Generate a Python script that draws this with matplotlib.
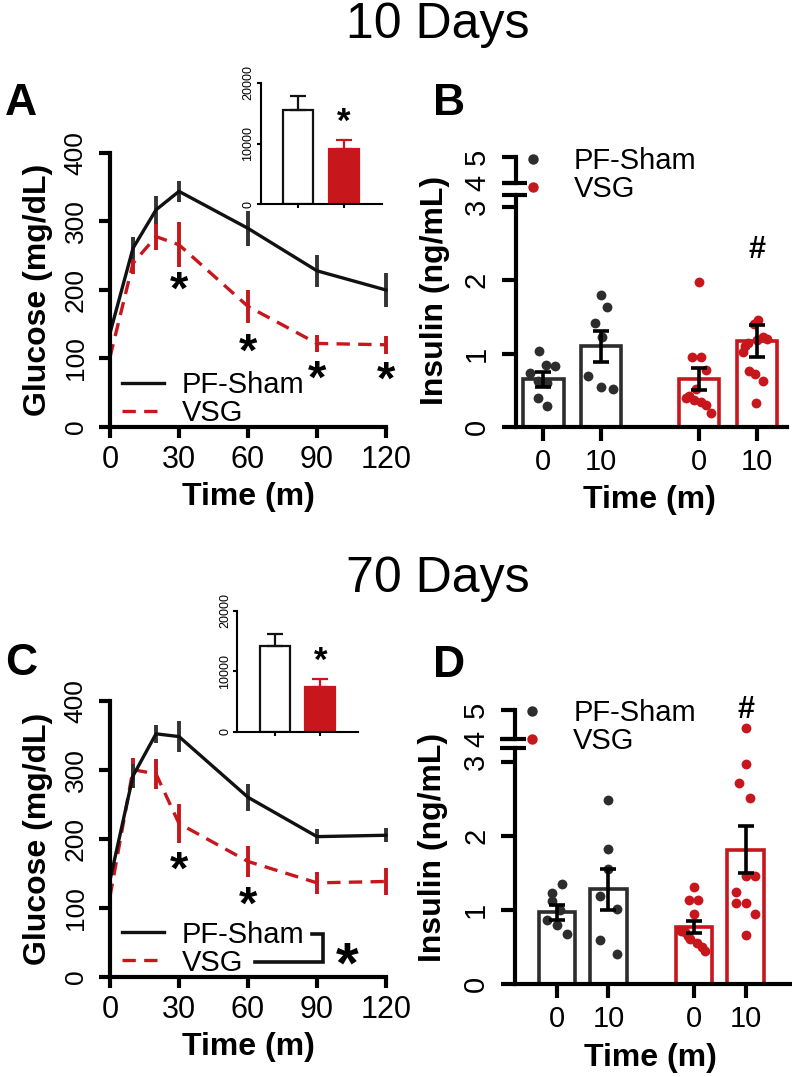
import matplotlib.pyplot as plt
from matplotlib.lines import Line2D

plt.rcParams['font.family'] = ['Liberation Sans', 'DejaVu Sans']

RED = '#c8161d'
BLK = '#111111'
DARK = '#2d2d2d'

# glucose tolerance test, minutes
time = [0, 10, 20, 30, 60, 90, 120]

# 10 days
sham10 = [137, 261, 317, 344, 290, 228, 200]
sham10_err = [15, 16, 20, 15, 26, 23, 25]
vsg10 = [102, 239, 278, 266, 176, 122, 120]
vsg10_err = [10, 15, 20, 33, 24, 12, 13]
stars10_t = [30, 60, 90, 120]
stars10_y = [215, 124, 85, 83]
auc10 = [15600, 9100]
auc10_err = [2200, 1400]

# 70 days
sham70 = [140, 291, 352, 348, 260, 203, 205]
sham70_err = [10, 17, 13, 22, 20, 11, 10]
vsg70 = [116, 300, 294, 222, 167, 136, 138]
vsg70_err = [10, 17, 22, 28, 22, 16, 19]
stars70_t = [30, 60]
stars70_y = [169, 118]
auc70 = [14150, 7320]
auc70_err = [2000, 1300]

# insulin, groups: PF-Sham 0, PF-Sham 10, VSG 0, VSG 10
ins_labels = ['0', '10', '0', '10']
ins10_mean = [0.65, 1.10, 0.65, 1.17]
ins10_sem = [0.10, 0.21, 0.15, 0.22]
ins10_pts = [
    [1.04, 0.85, 0.83, 0.73, 0.62, 0.60, 0.40, 0.28],
    [1.80, 1.64, 1.42, 1.23, 0.69, 0.55, 0.52],
    [1.98, 0.95, 0.95, 0.77, 0.52, 0.42, 0.39, 0.37, 0.34, 0.30, 0.19],
    [1.46, 1.40, 1.22, 1.20, 1.18, 1.15, 1.10, 1.02, 0.76, 0.72, 0.62, 0.33],
]
ins70_mean = [0.97, 1.28, 0.775, 1.82]
ins70_sem = [0.10, 0.28, 0.08, 0.32]
ins70_pts = [
    [1.35, 1.23, 1.13, 1.00, 0.86, 0.80, 0.68],
    [2.49, 1.83, 1.56, 1.19, 1.02, 0.59, 0.41],
    [1.31, 1.14, 1.14, 0.95, 0.72, 0.70, 0.65, 0.61, 0.55, 0.50, 0.44],
    [4.37, 2.98, 2.72, 2.52, 1.46, 1.46, 1.25, 1.09, 1.09, 0.95, 0.66],
]

# horizontal scatter of the dots (layout only)
jit10 = [
    [-0.07, 0.05, 0.21, -0.23, -0.10, 0.06, -0.09, 0.06],
    [0.0, 0.11, -0.10, 0.01, -0.22, 0.0, 0.21],
    [0.0, -0.12, 0.03, 0.12, -0.06, -0.18, -0.23, -0.09, 0.03, 0.12, 0.20],
    [0.02, -0.06, 0.10, 0.18, 0.0, -0.15, -0.20, -0.25, -0.14, -0.03, 0.10, -0.02],
]
jit70 = [
    [0.10, -0.10, -0.10, 0.06, -0.19, 0.0, 0.19],
    [0.0, 0.0, 0.0, -0.17, 0.16, -0.17, 0.16],
    [0.0, -0.10, 0.09, 0.0, -0.25, -0.17, -0.12, -0.07, 0.06, 0.15, 0.22],
    [0.0, 0.0, -0.12, 0.09, 0.01, 0.19, -0.19, -0.19, 0.0, 0.19, 0.0],
]

W, H = 792, 1077
fig = plt.figure(figsize=(W / 100, H / 100), dpi=100)


def px(left, top, right, bottom):
    return [left / W, 1 - bottom / H, (right - left) / W, (bottom - top) / H]


def style(ax, lw=3, ylab=19, xlab=22, length=8, ypad=8):
    for s in ['top', 'right']:
        ax.spines[s].set_visible(False)
    for s in ['left', 'bottom']:
        ax.spines[s].set_linewidth(lw)
    ax.tick_params(width=lw, length=length)
    ax.tick_params(axis='y', labelsize=ylab, labelrotation=90, pad=ypad)
    ax.tick_params(axis='x', labelsize=xlab, pad=5)
    for t in ax.get_yticklabels():
        t.set_va('center')


def mark(ax, x, y, s, size, lift):
    ax.annotate(s, (x, y), xytext=(0, -lift * size), textcoords='offset points',
                ha='center', va='baseline', fontsize=size, fontweight='bold',
                annotation_clip=False)


def glucose(rect, irect, sham, sham_err, vsg, vsg_err, st_t, st_y, auc, auc_err):
    ax = fig.add_axes(rect)
    dash = (0, (4, 2.5))
    ax.errorbar(time, vsg, yerr=vsg_err, fmt='none', ecolor=RED, elinewidth=2.8,
                capsize=0, clip_on=False)
    l2, = ax.plot(time, vsg, color=RED, lw=2.4, ls=dash, clip_on=False)
    ax.errorbar(time, sham, yerr=sham_err, fmt='none', ecolor='#333333',
                elinewidth=2.8, capsize=0, clip_on=False)
    l1, = ax.plot(time, sham, color=BLK, lw=2.4, clip_on=False)
    for t, y in zip(st_t, st_y):
        mark(ax, t, y, '*', 34, 0.5)
    ax.set_xlim(0, 120)
    ax.set_ylim(0, 400)
    ax.set_xticks([0, 30, 60, 90, 120])
    ax.set_yticks([0, 100, 200, 300, 400])
    style(ax)
    ax.set_xlabel('Time (m)', fontsize=23, fontweight='bold')
    ax.set_ylabel('Glucose (mg/dL)', fontsize=23, fontweight='bold')
    ax.xaxis.set_label_coords(0.5, -0.2)
    ax.yaxis.set_label_coords(-0.205, 0.5)
    ax.legend([l1, l2], ['PF-Sham', 'VSG'], loc='lower left',
              bbox_to_anchor=(0.043, 0.0), frameon=False, fontsize=21,
              handlelength=1.45, handletextpad=0.6, labelspacing=0.0,
              borderpad=0, borderaxespad=0)

    ins = fig.add_axes(irect)
    ecol = [BLK, RED]
    ins.bar([0, 1], auc, width=0.66, color=['white', RED], edgecolor=ecol, lw=1.6)
    for i in range(2):
        ins.errorbar(i, auc[i], yerr=[[0], [auc_err[i]]], fmt='none', ecolor=ecol[i],
                     elinewidth=1.6, capsize=5.5, capthick=1.6)
    mark(ins, 1, auc[1] + auc_err[1] + 4300, '*', 25, 0.5)
    ins.set_xlim(-0.82, 1.83)
    ins.set_ylim(0, 20000)
    ins.set_xticks([0, 1])
    ins.set_xticklabels([])
    ins.set_yticks([0, 10000, 20000])
    style(ins, lw=1.5, ylab=9, length=3, ypad=1.5)
    return ax


def insulin(rlo, rhi, pos, xlim, top, mean, sem, pts, jit, hash_ax, hash_y, leg_xy, ylab_y):
    lo = fig.add_axes(rlo)
    hi = fig.add_axes(rhi)
    edge = [DARK, DARK, RED, RED]
    lo.bar(pos, mean, width=0.7, color='white', edgecolor=edge, lw=2.6, zorder=1)
    for i in range(4):
        xs = [pos[i] + d for d in jit[i]]
        for a in (lo, hi):
            a.scatter(xs, pts[i], s=50, color=edge[i], lw=0, zorder=2)
        lo.errorbar(pos[i], mean[i], yerr=sem[i], fmt='none', ecolor='black',
                    elinewidth=2.6, capsize=6, capthick=2.6, zorder=3)
    for a in (lo, hi):
        a.set_xlim(*xlim)
    lo.set_ylim(0, top)
    hi.set_ylim(4, 5)
    lo.set_xticks(pos)
    lo.set_xticklabels(ins_labels)
    lo.set_yticks([0, 1, 2, 3])
    hi.set_yticks([4, 5])
    style(lo, ylab=21, xlab=21, length=10, ypad=8)
    style(hi, ylab=21, xlab=21, length=10, ypad=8)
    hi.spines['bottom'].set_visible(False)
    hi.tick_params(axis='x', bottom=False, labelbottom=False)
    # axis break marks
    lo.plot([-0.053, 0.04], [1, 1], transform=lo.transAxes, color='black', lw=3,
            clip_on=False, solid_capstyle='butt')
    hi.plot([-0.053, 0.04], [0, 0], transform=hi.transAxes, color='black', lw=3,
            clip_on=False, solid_capstyle='butt')
    mark(hash_ax(lo, hi), pos[3], hash_y, '#', 22, 0.36)
    lo.set_xlabel('Time (m)', fontsize=23, fontweight='bold')
    lo.set_ylabel('Insulin (ng/mL)', fontsize=23, fontweight='bold')
    lo.xaxis.set_label_coords(0.494, -0.25)
    lo.yaxis.set_label_coords(-0.245, ylab_y)
    hnd = [Line2D([], [], ls='none', marker='o', ms=7.5, color=DARK, mew=0),
           Line2D([], [], ls='none', marker='o', ms=7.5, color=RED, mew=0)]
    fig.legend(hnd, ['PF-Sham', 'VSG'], loc='upper left',
               bbox_to_anchor=(leg_xy[0] / W, 1 - leg_xy[1] / H), frameon=False,
               fontsize=21, handlelength=0.5, handletextpad=1.15,
               labelspacing=0.0, borderpad=0, borderaxespad=0)
    return lo


# top row: 10 days
fig.text(438 / W, 1 - 38 / H, '10 Days', fontsize=36, ha='center', va='baseline')
glucose(px(110, 153, 386, 427), px(260.7, 83, 382, 204),
        sham10, sham10_err, vsg10, vsg10_err, stars10_t, stars10_y, auc10, auc10_err)
insulin(px(516, 195, 787, 427), px(516, 156.7, 787, 183.3), [0, 1, 2.7, 3.7],
        (-0.473, 4.22), 3.16, ins10_mean, ins10_sem, ins10_pts, jit10,
        lambda lo, hi: lo, 2.45, (526, 147), 0.59)
fig.text(5 / W, 1 - 115 / H, 'A', fontsize=32, fontweight='bold')
fig.text(433 / W, 1 - 115 / H, 'B', fontsize=32, fontweight='bold')

# bottom row: 70 days
fig.text(438 / W, 1 - 592 / H, '70 Days', fontsize=36, ha='center', va='baseline')
axc = glucose(px(110, 700.7, 386, 976.7), px(237.3, 610.7, 358.3, 731.5),
              sham70, sham70_err, vsg70, vsg70_err, stars70_t, stars70_y, auc70, auc70_err)
axc.plot([87.7, 92.7, 92.7, 63.0], [61.4, 61.4, 21.7, 21.7], color=BLK, lw=2.6,
         clip_on=False, solid_joinstyle='miter')
mark(axc, 103.2, 33.9, '*', 42, 0.5)
insulin(px(515, 748.3, 790, 984), px(515, 710, 790, 739), [0, 1, 2.65, 3.65],
        (-0.807, 4.51), 3.19, ins70_mean, ins70_sem, ins70_pts, jit70,
        lambda lo, hi: hi, 5.11, (525, 699), 0.58)
fig.text(5 / W, 1 - 675 / H, 'C', fontsize=32, fontweight='bold')
fig.text(433 / W, 1 - 677 / H, 'D', fontsize=32, fontweight='bold')

fig.savefig('out.png', dpi=100)
